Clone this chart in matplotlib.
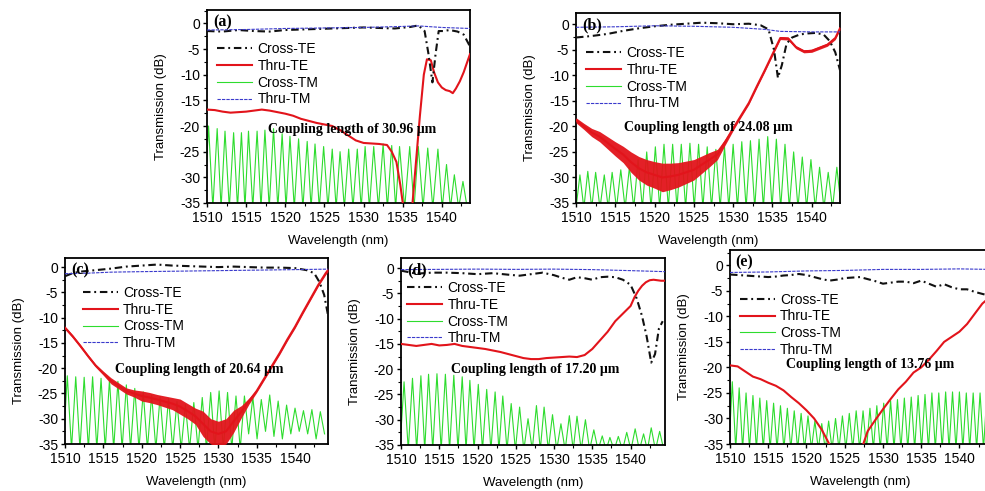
import matplotlib
matplotlib.use("Agg")
import matplotlib.pyplot as plt
from matplotlib.ticker import MultipleLocator

plt.rcParams['font.family'] = ['Liberation Sans', 'DejaVu Sans']
plt.rcParams['axes.unicode_minus'] = False

# ---------- DATA ----------
# panel (a): coupling length 30.96 um
a_cte_nm = [1510, 1512, 1514, 1516, 1518, 1520, 1522, 1524, 1526, 1528, 1530, 1532, 1534, 1536, 1537,
            1537.8, 1538.3, 1538.8, 1539.2, 1539.6, 1540.2, 1541, 1542, 1542.8, 1543.6]
a_cte_db = [-1.5, -1.6, -1.3, -1.5, -1.6, -1.3, -1.2, -1.1, -1.0, -0.9, -0.8, -0.9, -1.0, -0.7, -0.4,
            -1.5, -6, -11.5, -6, -1.5, -1.5, -1.3, -1.6, -2.2, -4.5]
a_tte_nm = [1510, 1511, 1512, 1513, 1514, 1515, 1516, 1517, 1518, 1519, 1520, 1521, 1522, 1523, 1524,
            1525, 1526, 1527, 1528, 1529, 1530, 1531, 1532, 1533, 1533.6, 1534.2, 1534.7, 1535.1,
            1535.7, 1536.2, 1536.7, 1537.2, 1537.7, 1538.1, 1538.6, 1539.0, 1539.5, 1540, 1540.5,
            1541, 1541.4, 1541.8, 1542.3, 1542.8, 1543.3, 1543.6]
a_tte_db = [-16.8, -16.9, -17.2, -17.4, -17.3, -17.2, -17.0, -16.8, -17.0, -17.3, -17.6, -18.0, -18.6,
            -19.0, -19.4, -19.7, -20.0, -20.8, -21.8, -22.8, -23.3, -23.4, -23.5, -23.7, -25, -27,
            -31.5, -36, -45, -36, -27, -18, -10, -7, -7.2, -9.5, -11.5, -12.5, -13, -13.2, -13.6,
            -12.7, -11.3, -9.5, -7.3, -6]
a_ctm_nm = [1510.2, 1511.3, 1512.3, 1513.4, 1514.4, 1515.3, 1516.4, 1517.4, 1518.5, 1519.6, 1520.6,
            1521.7, 1522.8, 1523.8, 1524.9, 1526.0, 1527.0, 1528.1, 1529.2, 1530.2, 1531.3, 1532.5,
            1533.6, 1534.6, 1535.9, 1537.0, 1538.2, 1539.5, 1540.6, 1541.6, 1542.7]
a_ctm_db = [-20, -20.5, -21, -21.3, -21.3, -21, -21, -20.8, -20.5, -21.5, -22, -22.5, -23, -23.5, -24,
            -24.5, -25, -24.5, -24.5, -24, -24, -23.5, -23.8, -24, -24, -24, -24.3, -24.5, -27.5,
            -29.5, -30.8]
a_ctm_dip = [-36] * 32
a_ttm_nm = [1510, 1515, 1520, 1525, 1530, 1535, 1537, 1540, 1543.6]
a_ttm_db = [-1.3, -1.2, -1.0, -0.9, -0.8, -0.6, -0.5, -0.8, -1.0]

# panel (b): coupling length 24.08 um
b_cte_nm = [1510, 1512, 1514, 1516, 1518, 1520, 1522, 1524, 1526, 1528, 1530, 1532, 1533.5, 1534.5,
            1535.2, 1535.7, 1536.2, 1536.8, 1537.5, 1538.5, 1539.5, 1540.5, 1541.5, 1542.3, 1543, 1543.6]
b_cte_db = [-2.6, -2.3, -1.9, -1.3, -0.8, -0.4, -0.1, 0.1, 0.3, 0.2, 0.0, 0.1, -0.2, -1.0, -5, -10.5,
            -8, -3.8, -2.6, -2.0, -1.8, -1.7, -2.0, -3.3, -5.5, -9]
b_tte_nm = [1510, 1511, 1512, 1513, 1514, 1515, 1516, 1517, 1518, 1519, 1520, 1521, 1522, 1523, 1524,
            1525, 1526, 1527, 1528, 1529, 1530, 1531, 1532, 1533, 1534, 1535, 1536, 1537, 1538, 1539,
            1540, 1541, 1542, 1543, 1543.6]
b_tte_db = [-18.8, -20, -21.2, -22, -23.2, -24.4, -25.5, -27, -28.2, -29, -29.5, -30, -29.8, -29.5, -29,
            -28.5, -27.5, -26.5, -25.5, -23, -20.4, -17.9, -15.4, -12.2, -9.1, -5.9, -2.7, -2.8, -4.5,
            -5.3, -5.2, -4.6, -4.0, -2.7, -0.8]
b_tte_spread = [0.5, 0.6, 0.8, 1.0, 1.2, 1.4, 1.6, 2.0, 2.3, 2.5, 2.6, 2.8, 2.6, 2.4, 2.2, 2.0, 1.7,
                1.4, 1.0, 0.6, 0.4, 0.3, 0.3, 0.3, 0.3, 0.3, 0.3, 0.3, 0.3, 0.3, 0.3, 0.3, 0.3, 0.3, 0.3]
b_ctm_nm = [1510.5, 1511.5, 1512.5, 1513.6, 1514.6, 1515.7, 1516.8, 1517.9, 1519.0, 1520.1, 1521.2,
            1522.3, 1523.4, 1524.5, 1525.6, 1526.7, 1527.8, 1528.9, 1530.0, 1531.1, 1532.2, 1533.3,
            1534.4, 1535.5, 1536.6, 1537.7, 1538.8, 1539.9, 1541.0, 1542.1, 1543.2]
b_ctm_db = [-29.5, -28.8, -29, -29.5, -29, -28.5, -28, -26.5, -25, -24, -23.5, -23.5, -23.5, -23.3,
            -23.5, -24, -24.5, -24, -23.5, -23, -22.8, -22.5, -22, -22.5, -23.5, -25, -26, -26.5,
            -28, -29, -28]
b_ctm_dip = [-36] * 32
b_ttm_nm = [1510, 1515, 1520, 1525, 1530, 1534, 1536, 1540, 1543.6]
b_ttm_db = [-0.6, -0.5, -0.3, -0.4, -0.6, -1.0, -1.4, -1.5, -1.5]

# panel (c): coupling length 20.64 um
c_cte_nm = [1510, 1511, 1512, 1514, 1516, 1518, 1520, 1522, 1524, 1526, 1528, 1530, 1532, 1534, 1536,
            1538, 1540, 1541.5, 1542.5, 1543.2, 1543.8, 1544.3]
c_cte_db = [-1.8, -1.2, -0.9, -0.6, -0.3, 0.1, 0.3, 0.5, 0.3, 0.2, 0.1, 0.0, 0.1, 0.0, -0.1, -0.1,
            -0.2, -0.6, -1.2, -3.0, -5.5, -9.5]
c_tte_nm = [1510, 1511, 1512, 1513, 1514, 1515, 1516, 1517, 1518, 1519, 1520, 1521, 1522, 1523, 1524,
            1525, 1526, 1527, 1528, 1529, 1530, 1531, 1532, 1533, 1534, 1535, 1536, 1537, 1538, 1539,
            1540, 1541, 1542, 1543, 1544, 1544.3]
c_tte_db = [-12, -13.7, -15.6, -17.6, -19.5, -21, -22.5, -23.5, -24.5, -25, -25.5, -25.8, -26.2, -26.6,
            -27, -27.6, -28.5, -29.5, -31, -32.5, -33, -32.5, -30.5, -28.6, -26.5, -24.5, -22, -19.5,
            -17, -14.3, -11.8, -9, -6.3, -3.6, -1.2, -0.6]
c_tte_spread = [0.3, 0.3, 0.3, 0.3, 0.3, 0.4, 0.6, 0.6, 0.6, 0.7, 1.0, 1.0, 1.0, 1.1, 1.2, 1.5, 1.5,
                1.6, 2.5, 2.5, 2.5, 2.5, 2.2, 1.2, 0.6, 0.3, 0.3, 0.3, 0.3, 0.3, 0.3, 0.3, 0.3, 0.3,
                0.3, 0.3]
c_ctm_nm = [1510.3, 1511.4, 1512.5, 1513.6, 1514.7, 1515.8, 1516.9, 1518.0, 1519.1, 1520.2, 1521.3,
            1522.4, 1523.5, 1524.6, 1525.7, 1526.8, 1527.9, 1529.0, 1530.1, 1531.2, 1532.3, 1533.4,
            1534.5, 1535.6, 1536.7, 1537.8, 1538.9, 1540.0, 1541.1, 1542.2, 1543.3]
c_ctm_db = [-21.5, -21.7, -21.8, -21.7, -22, -22.3, -22.6, -23.3, -24, -24.7, -25.3, -25.6, -26, -26.6,
            -27.2, -26.8, -25.8, -24.8, -24.5, -24.8, -25.5, -25.5, -25.8, -26.2, -25.3, -26.5, -27.3,
            -27.9, -28.4, -28.2, -28.6]
c_ctm_dip = [-36] * 22 + [-33, -34, -32.5, -33.5, -34, -33, -32.5, -33, -34, -33]
c_ttm_nm = [1510, 1513, 1516, 1520, 1525, 1530, 1535, 1540, 1544.3]
c_ttm_db = [-1.3, -1.2, -1.0, -0.9, -0.8, -0.7, -0.6, -0.5, -0.4]

# panel (d): coupling length 17.20 um
d_cte_nm = [1510, 1511, 1512, 1514, 1516, 1518, 1520, 1522, 1524, 1525.5, 1527, 1528.5, 1530, 1531,
            1532, 1533, 1534, 1535, 1536, 1537, 1538, 1539, 1540, 1540.8, 1541.5, 1542.1, 1542.7,
            1543.2, 1543.7, 1544.2]
d_cte_db = [-0.5, -0.8, -1.1, -0.9, -0.9, -1.0, -1.2, -1.0, -1.3, -1.5, -1.2, -0.9, -1.4, -1.9, -2.3,
            -1.8, -2.0, -2.3, -1.8, -1.7, -1.8, -2.3, -3.3, -6.0, -9.5, -13.5, -18.7, -17, -12, -10.5]
d_tte_nm = [1510, 1511, 1512, 1513, 1514, 1515, 1516, 1517, 1518, 1519, 1520, 1521, 1522, 1523, 1524,
            1525, 1526, 1527, 1528, 1529, 1530, 1531, 1532, 1533, 1534, 1535, 1536, 1537, 1538, 1539,
            1540, 1540.5, 1541, 1541.5, 1542, 1542.5, 1543, 1543.5, 1544, 1544.5]
d_tte_db = [-15.0, -15.2, -15.4, -15.2, -15.0, -15.3, -15.2, -15.0, -15.4, -15.6, -15.8, -16.0, -16.3,
            -16.6, -17.0, -17.4, -17.8, -18.0, -18.0, -17.8, -17.7, -17.6, -17.5, -17.6, -17.2, -16.0,
            -14.3, -12.6, -10.5, -9.0, -7.5, -5.8, -4.5, -3.5, -2.8, -2.4, -2.3, -2.4, -2.5, -2.5]
d_ctm_nm = [1510.4, 1511.5, 1512.6, 1513.6, 1514.7, 1515.8, 1516.9, 1518.0, 1519.0, 1520.1, 1521.2,
            1522.3, 1523.3, 1524.4, 1525.5, 1526.6, 1527.7, 1528.7, 1529.8, 1530.9, 1532.0, 1533.0,
            1534.1, 1535.2, 1536.3, 1537.3, 1538.4, 1539.5, 1540.6, 1541.7, 1542.7, 1543.8]
d_ctm_db = [-22.5, -21.8, -21.3, -21, -20.9, -21, -21.2, -21.5, -22.2, -23, -24, -24.5, -25.3, -26.8,
            -27.5, -29.8, -27.2, -27.5, -29, -30.8, -29.2, -29.3, -30, -32, -33.2, -33.5, -33.3,
            -32.5, -31.8, -32.8, -31.6, -32.3]
d_ctm_dip = [-36] * 33
d_ttm_nm = [1510, 1515, 1520, 1525, 1530, 1535, 1540, 1544.5]
d_ttm_db = [-0.3, -0.25, -0.2, -0.25, -0.2, -0.3, -0.5, -0.7]

# panel (e): coupling length 13.76 um
e_cte_nm = [1510, 1511, 1512, 1513, 1514, 1515, 1516, 1517, 1518, 1519, 1520, 1521, 1522, 1523, 1524,
            1525, 1526, 1527, 1528, 1529, 1530, 1531, 1532, 1533, 1534, 1535, 1536, 1537, 1538, 1539,
            1540, 1541, 1542, 1543, 1544]
e_cte_db = [-1.8, -1.9, -2.0, -2.1, -2.2, -2.3, -2.2, -2.0, -1.9, -1.7, -1.9, -2.3, -2.7, -3.0, -2.8,
            -2.5, -2.4, -2.3, -2.7, -3.1, -3.6, -3.4, -3.2, -3.2, -3.5, -3.0, -3.6, -4.2, -3.7, -4.3,
            -4.7, -4.7, -5.2, -5.6, -6.0]
e_tte_nm = [1510, 1511, 1512, 1513, 1514, 1515, 1516, 1517, 1518, 1519, 1520, 1521, 1522, 1522.7,
            1523.3, 1525.2, 1527.2, 1528, 1529, 1530, 1531, 1532, 1533, 1534, 1535, 1536, 1537, 1538,
            1539, 1540, 1541, 1542, 1543, 1544]
e_tte_db = [-19.6, -19.8, -20.8, -21.8, -22.3, -23.0, -23.6, -24.5, -25.8, -27.0, -28.4, -30.0, -32.2,
            -34.2, -36, -45, -36, -32.5, -30.3, -28.2, -26.2, -24.3, -22.8, -21, -20.0, -18.5, -16.8,
            -15.0, -14.0, -13.0, -11.5, -9.5, -7.5, -6.2]
e_ctm_nm = [1510.3, 1511.2, 1512.1, 1513.0, 1513.9, 1514.8, 1515.7, 1516.6, 1517.5, 1518.4, 1519.3,
            1520.2, 1521.1, 1522.0, 1522.9, 1523.8, 1524.7, 1525.6, 1526.5, 1527.4, 1528.3, 1529.2,
            1530.1, 1531.0, 1531.9, 1532.8, 1533.7, 1534.6, 1535.5, 1536.4, 1537.3, 1538.2, 1539.1,
            1540.0, 1540.9, 1541.8, 1542.7, 1543.6]
e_ctm_db = [-22.8, -24, -25, -25.5, -26, -26.5, -27, -27.5, -28, -28.5, -29, -29.5, -30.5, -31, -30.5,
            -30, -29.5, -29, -28.5, -28.5, -28, -27.5, -27, -26.5, -26.3, -26, -25.8, -25.5, -25.3,
            -25, -25, -24.8, -24.8, -24.8, -25, -25, -25, -25]
e_ctm_dip = [-36] * 39
e_ttm_nm = [1510, 1515, 1520, 1525, 1530, 1535, 1540, 1544]
e_ttm_db = [-1.4, -1.3, -1.1, -1.0, -0.8, -0.8, -0.7, -0.8]

# ---------- STYLE ----------
RED = '#e2141b'
GREEN = '#2edc2e'
BLUE = '#3a3acc'
BLACK = '#111111'
SERIF = ['Liberation Serif', 'DejaVu Serif']


def fringe_path(peak_nm, peak_db, dip_db):
    """Zig-zag between fringe peaks and the dips lying between them."""
    xs, ys = [], []
    first_gap = peak_nm[1] - peak_nm[0]
    last_gap = peak_nm[-1] - peak_nm[-2]
    xs.append(peak_nm[0] - first_gap / 2)
    ys.append(dip_db[0])
    for i in range(len(peak_nm)):
        xs.append(peak_nm[i])
        ys.append(peak_db[i])
        if i < len(peak_nm) - 1:
            xs.append((peak_nm[i] + peak_nm[i + 1]) / 2)
        else:
            xs.append(peak_nm[i] + last_gap / 2)
        ys.append(dip_db[i + 1])
    return xs, ys


def draw_panel(box, tag, length, xmax, ymax, cte, tte, ctm, ttm, spread, leg_xy, text_xy):
    l, t, r, b = box
    W, H = 985, 491
    ax = fig.add_axes([l / W, 1 - b / H, (r - l) / W, (b - t) / H])

    fx, fy = fringe_path(*ctm)
    ax.plot(fx, fy, color=GREEN, lw=0.8, zorder=2, label='Cross-TM')
    if spread is not None:
        lo = [v - s for v, s in zip(tte[1], spread)]
        hi = [v + s for v, s in zip(tte[1], spread)]
        ax.fill_between(tte[0], lo, hi, color=RED, lw=0, zorder=3, alpha=0.95)
    ax.plot(tte[0], tte[1], color=RED, lw=1.5, zorder=3, label='Thru-TE')
    ax.plot(cte[0], cte[1], color=BLACK, lw=1.5, ls=(0, (3.6, 1.8, 0.9, 1.8)), zorder=4,
            label='Cross-TE')
    ax.plot(ttm[0], ttm[1], color=BLUE, lw=0.8, ls=(0, (3, 1)), zorder=4, label='Thru-TM')

    ax.set_xlim(1510, xmax)
    ax.set_ylim(-35, ymax)
    ax.xaxis.set_major_locator(MultipleLocator(5))
    ax.xaxis.set_minor_locator(MultipleLocator(2.5))
    ax.yaxis.set_major_locator(MultipleLocator(5))
    ax.yaxis.set_minor_locator(MultipleLocator(2.5))
    ax.tick_params(which='major', direction='out', length=3, width=1, pad=2, labelsize=10)
    ax.tick_params(axis='x', which='major', pad=3)
    ax.tick_params(which='minor', direction='out', length=2, width=0.8)
    for sp in ax.spines.values():
        sp.set_linewidth(1.3)
    ax.set_xlabel('Wavelength (nm)', fontsize=9.5, labelpad=7)
    ax.set_ylabel('Transmission (dB)', fontsize=9.5, labelpad=9)

    handles, labels = ax.get_legend_handles_labels()
    order = ['Cross-TE', 'Thru-TE', 'Cross-TM', 'Thru-TM']
    hmap = dict(zip(labels, handles))
    ax.legend([hmap[k] for k in order], order, loc='upper left', bbox_to_anchor=leg_xy,
              frameon=False, fontsize=10, borderpad=0, borderaxespad=0, handlelength=2.5,
              handletextpad=0.4, labelspacing=0.2)

    ax.text(0.022, 0.935, tag, transform=ax.transAxes, family=SERIF, fontweight='bold',
            fontsize=11.5, va='center', ha='left', zorder=6)
    ax.text(text_xy[0], text_xy[1], 'Coupling length of %s \u03bcm' % length, family=SERIF,
            fontweight='bold', fontsize=10, ha='center', va='center', zorder=6)
    return ax


fig = plt.figure(figsize=(9.85, 4.91), dpi=100)

draw_panel((207, 10, 470, 203), '(a)', '30.96', 1543.6, 2.6,
           (a_cte_nm, a_cte_db), (a_tte_nm, a_tte_db), (a_ctm_nm, a_ctm_db, a_ctm_dip),
           (a_ttm_nm, a_ttm_db), None, (0.038, 0.834), (1528.5, -20.6))
draw_panel((576, 13, 840, 203), '(b)', '24.08', 1543.6, 2.2,
           (b_cte_nm, b_cte_db), (b_tte_nm, b_tte_db), (b_ctm_nm, b_ctm_db, b_ctm_dip),
           (b_ttm_nm, b_ttm_db), b_tte_spread, (0.038, 0.826), (1526.9, -20.3))
draw_panel((65, 258, 328, 444), '(c)', '20.64', 1544.3, 1.8,
           (c_cte_nm, c_cte_db), (c_tte_nm, c_tte_db), (c_ctm_nm, c_ctm_db, c_ctm_dip),
           (c_ttm_nm, c_ttm_db), c_tte_spread, (0.068, 0.85), (1527.5, -20.2))
draw_panel((401, 258, 665, 445), '(d)', '17.20', 1544.5, 2.0,
           (d_cte_nm, d_cte_db), (d_tte_nm, d_tte_db), (d_ctm_nm, d_ctm_db, d_ctm_dip),
           (d_ttm_nm, d_ttm_db), None, (0.023, 0.877), (1527.5, -20.0))
draw_panel((730, 250, 990, 444), '(e)', '13.76', 1544.0, 3.0,
           (e_cte_nm, e_cte_db), (e_tte_nm, e_tte_db), (e_ctm_nm, e_ctm_db, e_ctm_dip),
           (e_ttm_nm, e_ttm_db), None, (0.038, 0.78), (1528.3, -19.5))

fig.savefig('out.png', dpi=100)
